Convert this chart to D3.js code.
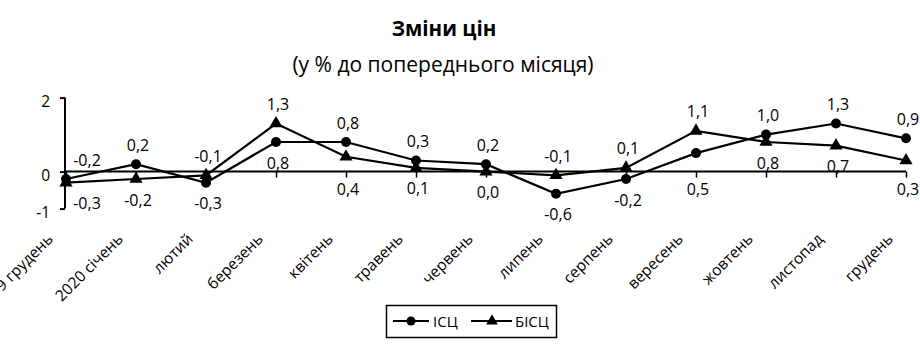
<!DOCTYPE html>
<html><head><meta charset="utf-8">
<script src="https://cdn.jsdelivr.net/npm/d3@7"></script>
<style>body{margin:0;background:#fff}svg{display:block}</style>
</head><body>
<svg id="c" width="920" height="356"></svg>
<script>
const categories = ["2019 грудень","2020 січень","лютий","березень","квітень","травень","червень","липень","серпень","вересень","жовтень","листопад","грудень"];
const icsValues  = [-0.2, 0.2, -0.3, 0.8, 0.8, 0.3, 0.2, -0.6, -0.2, 0.5, 1.0, 1.3, 0.9];
const bicsValues = [-0.3, -0.2, -0.1, 1.3, 0.4, 0.1, 0.0, -0.1, 0.1, 1.1, 0.8, 0.7, 0.3];
const yTicks = [-1, 0, 2];
const seriesNames = ["ІСЦ", "БІСЦ"];

const font = "'Open Sans', sans-serif";
const svg = d3.select("#c");
const x = d3.scalePoint().domain(categories).range([66, 906]);
const y = d3.scaleLinear().domain([-1, 2]).range([208.6, 97.6]);
const fmt = v => d3.format(".1f")(v).replace(".", ",").replace("−","-");

// titles
svg.append("text").attr("x", 444).attr("y", 36).attr("text-anchor","middle")
  .attr("font-family", font).attr("font-weight","bold").attr("font-size", 20.5).text("Зміни цін");
svg.append("text").attr("x", 443).attr("y", 72).attr("text-anchor","middle")
  .attr("font-family", font).attr("font-size", 21).text("(у % до попереднього місяця)");

// y axis
const ya = svg.append("g").attr("transform","translate(65,0)")
  .call(d3.axisLeft(y).tickValues(yTicks).tickSize(5).tickFormat(d => d < 0 ? "-" + Math.abs(d) : d));
ya.select(".domain").attr("stroke","#000").attr("stroke-width",2).attr("d","M0,"+y(-1)+"V"+y(2));
ya.selectAll(".tick line").attr("stroke","#000").attr("stroke-width",2);
ya.selectAll(".tick text").attr("font-family",font).attr("font-size",15.5).attr("fill","#000")
  .attr("x",-15).attr("dy","0.55em");

// x axis at zero
const xa = svg.append("g").attr("transform","translate(0,"+y(0)+")")
  .call(d3.axisBottom(x).tickSize(6).tickSizeOuter(0).tickFormat(""));
xa.select(".domain").attr("stroke","#000").attr("stroke-width",2).attr("d","M65,0H906");
xa.selectAll(".tick line").attr("stroke","#000").attr("stroke-width",1.5);

// category labels
svg.append("g").selectAll("text").data(categories).join("text")
  .attr("transform", d => "translate(" + (x(d) - 12) + ",240) rotate(-45)")
  .attr("text-anchor","end").attr("font-family",font).attr("font-size",15.5).attr("fill","#000")
  .text(d => d);

// lines
const line = d3.line().x((d,i) => x(categories[i])).y(d => y(d));
[icsValues, bicsValues].forEach(vals => {
  svg.append("path").attr("d", line(vals)).attr("fill","none").attr("stroke","#000").attr("stroke-width",2.2);
});
svg.append("g").selectAll("circle").data(icsValues).join("circle")
  .attr("cx",(d,i)=>x(categories[i])).attr("cy",d=>y(d)).attr("r",5).attr("fill","#000");
const tri = d3.symbol().type(d3.symbolTriangle).size(75);
svg.append("g").selectAll("path").data(bicsValues).join("path")
  .attr("d", tri).attr("transform",(d,i)=>"translate("+x(categories[i])+","+y(d)+")").attr("fill","#000");

// data labels: higher value above, lower below (pushed below the zero axis if they would hit it)
const y0 = y(0);
const labels = [];
categories.forEach((c,i) => {
  const a = icsValues[i], b = bicsValues[i];
  const hi = Math.max(a,b), lo = Math.min(a,b);
  labels.push({c, v: hi, cy: y(hi) - 19});
  let cy = y(lo) + 21;
  if (cy > y0 - 2 && cy < y0 + 17) cy = y0 + 18;
  labels.push({c, v: lo, cy});
});
svg.append("g").selectAll("text").data(labels).join("text")
  .attr("x", d => Math.max(x(d.c) + 2, 87)).attr("y", d => d.cy + 5.5)
  .attr("text-anchor","middle").attr("font-family",font).attr("font-size",16).attr("fill","#000")
  .text(d => fmt(d.v));

// legend
const lg = svg.append("g");
lg.append("rect").attr("x",386.5).attr("y",305.5).attr("width",170).attr("height",32)
  .attr("fill","#fff").attr("stroke","#000").attr("stroke-width",1.5);
lg.append("line").attr("x1",393).attr("x2",429).attr("y1",321).attr("y2",321).attr("stroke","#000").attr("stroke-width",2);
lg.append("circle").attr("cx",411).attr("cy",321).attr("r",4.5).attr("fill","#000");
lg.append("text").attr("x",433).attr("y",326.5).attr("font-family",font).attr("font-size",15).text(seriesNames[0]);
lg.append("line").attr("x1",471).attr("x2",512).attr("y1",321).attr("y2",321).attr("stroke","#000").attr("stroke-width",2);
lg.append("path").attr("d", d3.symbol().type(d3.symbolTriangle).size(60)).attr("transform","translate(492,321)").attr("fill","#000");
lg.append("text").attr("x",515).attr("y",326.5).attr("font-family",font).attr("font-size",15).text(seriesNames[1]);
</script>
</body></html>
